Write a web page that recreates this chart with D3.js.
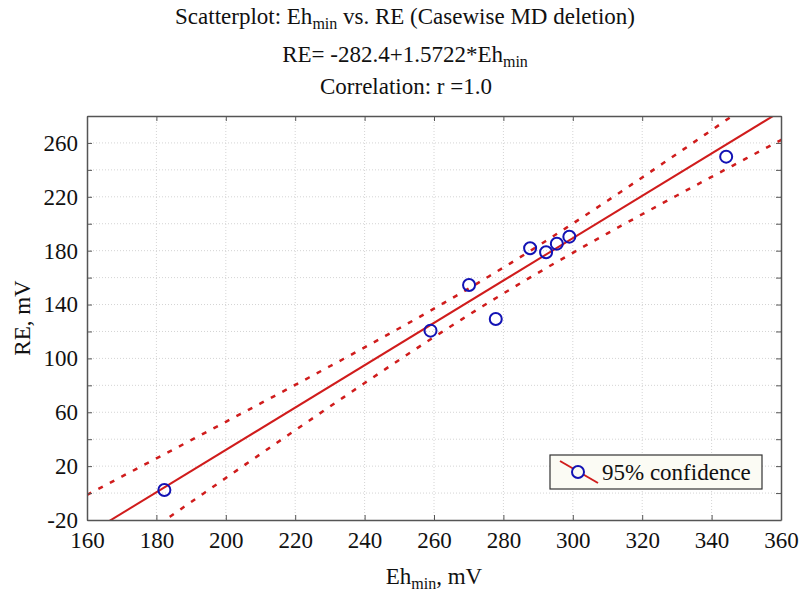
<!DOCTYPE html>
<html>
<head>
<meta charset="utf-8">
<script src="https://cdn.jsdelivr.net/npm/d3@7"></script>
</head>
<body style="margin:0;background:#fff">
<script>
// data
var ehMin = [182.3, 259.0, 270.1, 277.8, 287.7, 292.3, 295.4, 299.0, 344.2];
var re    = [2.3, 120.6, 154.5, 129.3, 181.8, 178.8, 185.2, 190.4, 249.8];
var intercept = -282.4, slope = 1.5722;
var xTicks = d3.range(160, 361, 20);
var yTicks = d3.range(-20, 281, 20);

var W = 806, H = 596;
var serif = "'Liberation Serif'";
var fs = "23px";
var margin = {top: 116, right: 25, bottom: 76, left: 87},
    width = W - margin.left - margin.right,
    height = H - margin.top - margin.bottom;

var x = d3.scaleLinear().domain([160, 360]).range([0, width]);
var y = d3.scaleLinear().domain([-20, 280]).range([height, 0]);

var svg = d3.select("body").append("svg")
    .attr("width", W)
    .attr("height", H);

// titles
function label(px, py, parts) {
    var t = svg.append("text").attr("x", px).attr("y", py).attr("text-anchor", "middle")
        .style("font-size", fs).style("font-family", serif).style("fill", "#111");
    parts.forEach(function(p) {
        var s = t.append("tspan").text(p[0]);
        if (p[1] == "sub") s.style("font-size", "16px").attr("dy", 5);
        if (p[1] == "up") s.attr("dy", -5);
    });
    return t;
}
label(405, 24, [["Scatterplot: Eh"], ["min", "sub"], [" vs. RE (Casewise MD deletion)", "up"]]);
label(405, 62, [["RE= -282.4+1.5722*Eh"], ["min", "sub"]]);
label(406, 94, [["Correlation: r =1.0"]]);

var main = svg.append("g")
    .attr("transform", "translate(" + margin.left + "," + margin.top + ")");

main.append("clipPath").attr("id", "clip")
    .append("rect").attr("width", width).attr("height", height);

// grid
main.append("g").selectAll("line").data(xTicks.slice(1, -1)).enter().append("line")
    .attr("x1", function(d) { return x(d); }).attr("x2", function(d) { return x(d); })
    .attr("y1", 0).attr("y2", height)
    .attr("stroke", "#d4d4d4").attr("stroke-dasharray", "1,2");
main.append("g").selectAll("line").data(yTicks.slice(1, -1)).enter().append("line")
    .attr("y1", function(d) { return y(d); }).attr("y2", function(d) { return y(d); })
    .attr("x1", 0).attr("x2", width)
    .attr("stroke", "#d4d4d4").attr("stroke-dasharray", "1,2");

// confidence band (95%, mean) from the points
var n = ehMin.length, mx = d3.mean(ehMin);
var sse = d3.sum(ehMin, function(v, i) { var r = re[i] - (intercept + slope * v); return r * r; });
var s = Math.sqrt(sse / (n - 2));
var sxx = d3.sum(ehMin, function(v) { return (v - mx) * (v - mx); });
var tval = 2.365;
var xs = d3.range(150, 371, 2);
function band(sign) {
    return xs.map(function(v) {
        var hw = tval * s * Math.sqrt(1 / n + (v - mx) * (v - mx) / sxx);
        return [v, intercept + slope * v + sign * hw];
    });
}
var line = d3.line().x(function(d) { return x(d[0]); }).y(function(d) { return y(d[1]); });

var plot = main.append("g").attr("clip-path", "url(#clip)");
[1, -1].forEach(function(sg) {
    plot.append("path").attr("d", line(band(sg)))
        .attr("fill", "none").attr("stroke", "#d01c1c")
        .attr("stroke-width", 2.5).attr("stroke-dasharray", "5,8");
});
plot.append("path")
    .attr("d", line([[150, intercept + slope * 150], [370, intercept + slope * 370]]))
    .attr("fill", "none").attr("stroke", "#d01c1c").attr("stroke-width", 2);

// points
main.append("g").selectAll("circle").data(ehMin).enter().append("circle")
    .attr("cx", function(d) { return x(d); })
    .attr("cy", function(d, i) { return y(re[i]); })
    .attr("r", 6)
    .attr("fill", "none").attr("stroke", "#1212b4").attr("stroke-width", 2);

// axes
var xAxis = d3.axisBottom(x).tickValues(xTicks).tickSizeInner(-5).tickSizeOuter(0).tickPadding(12)
    .tickFormat(d3.format("d"));
var yAxis = d3.axisLeft(y).tickValues(yTicks).tickSizeInner(-5).tickSizeOuter(0).tickPadding(9)
    .tickFormat(function(d) { return (d + 20) % 40 === 0 ? d : ""; });

main.append("g").attr("transform", "translate(0," + height + ")").call(xAxis);
main.append("g").call(yAxis);
main.append("g").call(d3.axisTop(x).tickValues(xTicks).tickSizeInner(-5).tickSizeOuter(0).tickFormat(""));
main.append("g").attr("transform", "translate(" + width + ",0)")
    .call(d3.axisRight(y).tickValues(yTicks).tickSizeInner(-5).tickSizeOuter(0).tickFormat(""));

main.selectAll(".domain").attr("stroke", "#555").attr("stroke-width", 1.5);
main.selectAll(".tick line").attr("stroke", "#555");
main.selectAll(".tick text")
    .style("font-family", serif).style("font-size", fs).style("fill", "#111");

// axis titles
label(434, 584, [["Eh"], ["min", "sub"], [", mV", "up"]]);
svg.append("text").attr("transform", "translate(30," + (margin.top + height / 2) + ") rotate(-90)")
    .attr("text-anchor", "middle")
    .style("font-size", fs).style("font-family", serif).style("fill", "#111")
    .text("RE, mV");

// legend
var lg = svg.append("g").attr("transform", "translate(550,455)");
lg.append("rect").attr("width", 212).attr("height", 34)
    .attr("fill", "#fbfbf4").attr("stroke", "#333").attr("stroke-width", 1.2);
lg.append("line").attr("x1", 10).attr("y1", 6).attr("x2", 48).attr("y2", 28)
    .attr("stroke", "#d01c1c").attr("stroke-width", 2);
lg.append("circle").attr("cx", 28).attr("cy", 17).attr("r", 6)
    .attr("fill", "#fbfbf4").attr("stroke", "#1212b4").attr("stroke-width", 2);
lg.append("text").attr("x", 52).attr("y", 25)
    .style("font-size", fs).style("font-family", serif).style("fill", "#111")
    .text("95% confidence");
</script>
</body>
</html>
